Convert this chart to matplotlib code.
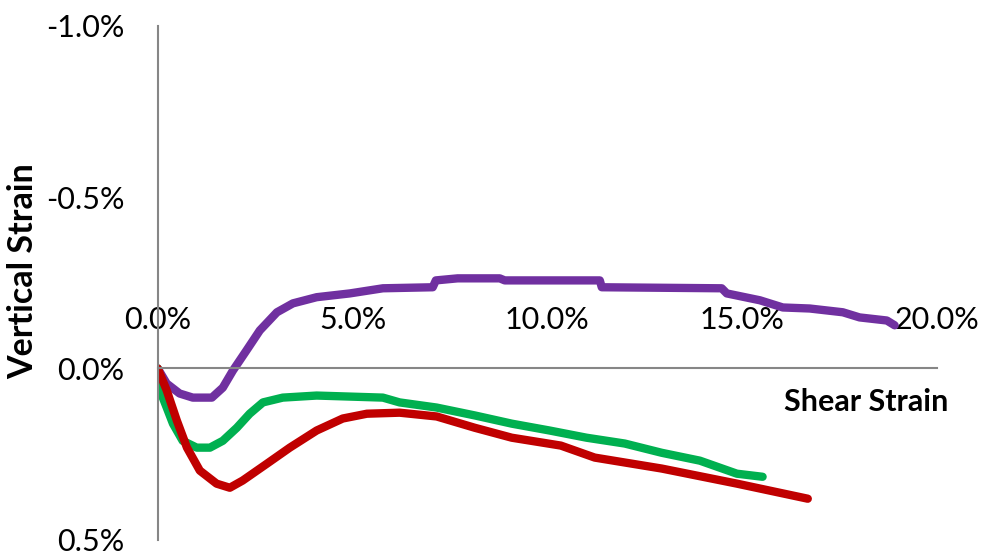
import matplotlib
matplotlib.use("Agg")
import matplotlib.pyplot as plt
from matplotlib.ticker import FuncFormatter

plt.rcParams['font.family'] = ['Lato', 'DejaVu Sans']

# Shear strain (%) vs vertical strain (%) for three tests
purple_x = [0, 0.23, 0.56, 0.90, 1.39, 1.67, 1.93, 2.28, 2.62, 3.06, 3.47, 4.08, 4.93,
            5.78, 7.06, 7.14, 7.70, 8.78, 8.91, 11.35, 11.40, 14.48, 14.61, 15.46,
            16.05, 16.74, 17.59, 18.02, 18.72, 18.92]
purple_y = [0, 0.044, 0.073, 0.085, 0.085, 0.056, 0.006, -0.053, -0.111, -0.164,
            -0.190, -0.208, -0.219, -0.234, -0.237, -0.257, -0.263, -0.263, -0.257,
            -0.257, -0.237, -0.234, -0.219, -0.199, -0.178, -0.175, -0.164, -0.149,
            -0.140, -0.126]

green_x = [0, 0.13, 0.39, 0.64, 1.00, 1.34, 1.67, 2.03, 2.36, 2.70, 3.21, 4.08, 5.78,
           6.21, 7.16, 8.14, 9.09, 10.06, 11.01, 11.99, 12.94, 13.92, 14.87, 15.53]
green_y = [0, 0.085, 0.161, 0.211, 0.231, 0.231, 0.211, 0.173, 0.132, 0.099, 0.085,
           0.079, 0.085, 0.099, 0.114, 0.137, 0.161, 0.181, 0.202, 0.219, 0.246,
           0.269, 0.307, 0.316]

red_x = [0, 0.23, 0.49, 0.75, 1.08, 1.51, 1.85, 2.18, 2.80, 3.39, 4.08, 4.75, 5.37,
         6.21, 7.16, 8.14, 9.09, 10.35, 11.22, 12.94, 14.87, 16.69]
red_y = [0, 0.064, 0.152, 0.231, 0.298, 0.336, 0.348, 0.327, 0.278, 0.231, 0.181,
         0.146, 0.132, 0.129, 0.140, 0.173, 0.202, 0.225, 0.260, 0.292, 0.336, 0.380]

x_ticks = [0, 5, 10, 15, 20]
y_ticks = [-1.0, -0.5, 0.0, 0.5]

fig = plt.figure(figsize=(9.86, 5.6), dpi=100)
ax = fig.add_axes([0.160, 0.036, 0.790, 0.918])

kw = dict(linewidth=6, solid_capstyle='round', solid_joinstyle='round')
ax.plot(purple_x, purple_y, color='#7030A0', **kw)
ax.plot(green_x, green_y, color='#00B050', **kw)
ax.plot(red_x, red_y, color='#C00000', **kw)

ax.set_xlim(0, 20)
ax.set_ylim(0.5, -1.0)
ax.set_xticks(x_ticks)
ax.set_yticks(y_ticks)

pct = FuncFormatter(lambda v, _: f"{v:.1f}%")
ax.xaxis.set_major_formatter(pct)
ax.yaxis.set_major_formatter(pct)

for side in ('right', 'bottom'):
    ax.spines[side].set_visible(False)
ax.spines['top'].set_position(('data', 0))
for side in ('top', 'left'):
    ax.spines[side].set_color('#868686')
    ax.spines[side].set_linewidth(1.5)

ax.xaxis.tick_top()
ax.tick_params(axis='x', length=0, pad=25, labelsize=22, colors='black')
ax.tick_params(axis='y', length=0, pad=24, labelsize=22, colors='black')

fig.text(0.878, 0.282, 'Shear Strain', fontsize=22, fontweight='bold',
         ha='center', va='center')
fig.text(0.024, 0.516, 'Vertical Strain', fontsize=24.5, fontweight='bold',
         ha='center', va='center', rotation=90)

fig.savefig('out.png', dpi=100)
